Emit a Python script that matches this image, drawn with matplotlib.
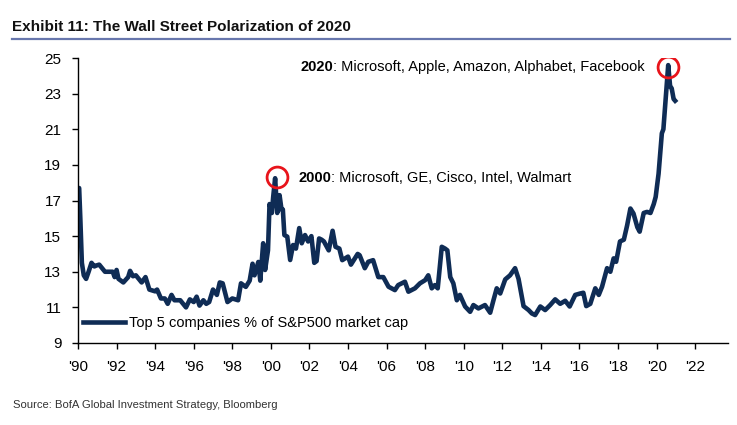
import matplotlib
matplotlib.use("Agg")
import matplotlib.pyplot as plt
from matplotlib.lines import Line2D
from matplotlib import font_manager

plt.rcParams['font.family'] = ['Liberation Sans', 'DejaVu Sans']

# Top 5 companies share of S&P500 market cap
years = [1990.00, 1990.06, 1990.12, 1990.20, 1990.30, 1990.42, 1990.55, 1990.70, 1990.85, 1990.95,
         1991.10, 1991.25, 1991.40, 1991.60, 1991.80, 1991.90, 1992.00, 1992.10, 1992.35, 1992.60,
         1992.70, 1992.85, 1993.00, 1993.15, 1993.30, 1993.50, 1993.70, 1994.00, 1994.10, 1994.30,
         1994.50, 1994.65, 1994.85, 1995.00, 1995.30, 1995.45, 1995.60, 1995.80, 1996.00, 1996.15,
         1996.30, 1996.50, 1996.65, 1996.80, 1997.00, 1997.20, 1997.35, 1997.50, 1997.75, 1998.00,
         1998.30, 1998.45, 1998.70, 1998.90, 1999.05, 1999.15, 1999.35, 1999.45, 1999.60, 1999.70,
         1999.85, 1999.93, 2000.05, 2000.12, 2000.22, 2000.33, 2000.45, 2000.55, 2000.62, 2000.70,
         2000.85, 2001.00, 2001.15, 2001.30, 2001.47, 2001.60, 2001.77, 2001.93, 2002.10, 2002.25,
         2002.37, 2002.50, 2002.63, 2002.75, 2003.00, 2003.20, 2003.35, 2003.55, 2003.70, 2004.00,
         2004.15, 2004.50, 2004.60, 2004.87, 2005.05, 2005.30, 2005.57, 2005.83, 2006.10, 2006.43,
         2006.60, 2006.95, 2007.13, 2007.47, 2007.73, 2008.00, 2008.16, 2008.34, 2008.50, 2008.65,
         2008.86, 2009.03, 2009.15, 2009.30, 2009.46, 2009.64, 2009.80, 2010.07, 2010.33, 2010.50,
         2010.76, 2011.10, 2011.37, 2011.54, 2011.71, 2011.89, 2012.15, 2012.40, 2012.66, 2012.84,
         2013.10, 2013.36, 2013.53, 2013.70, 2013.97, 2014.22, 2014.48, 2014.74, 2015.00, 2015.26,
         2015.49, 2015.78, 2016.04, 2016.20, 2016.35, 2016.56, 2016.82, 2017.00, 2017.17, 2017.43,
         2017.60, 2017.77, 2017.90, 2018.10, 2018.30, 2018.47, 2018.64, 2018.80, 2019.00, 2019.12,
         2019.33, 2019.50, 2019.68, 2019.85, 2019.95, 2020.10, 2020.27, 2020.35, 2020.50, 2020.60,
         2020.70, 2020.78, 2020.88, 2020.96]
share = [17.6, 17.7, 16.0, 13.5, 12.8, 12.6, 13.0, 13.5, 13.3, 13.35,
         13.4, 13.2, 13.0, 13.0, 13.0, 12.7, 13.1, 12.6, 12.4, 12.7,
         13.05, 12.75, 12.8, 12.6, 12.4, 12.7, 12.0, 11.9, 12.0, 11.5,
         11.5, 11.2, 11.7, 11.4, 11.4, 11.2, 11.0, 11.45, 11.3, 11.6,
         11.1, 11.4, 11.2, 11.3, 12.0, 11.7, 12.4, 12.35, 11.3, 11.5,
         11.4, 12.35, 12.15, 12.5, 13.45, 12.8, 13.55, 12.5, 14.6, 13.1,
         14.2, 16.8, 16.3, 17.2, 18.25, 16.3, 17.3, 16.5, 16.5, 15.06,
         14.97, 13.66, 14.5, 14.3, 15.45, 14.6, 15.06, 14.7, 15.0, 13.5,
         13.6, 14.87, 14.8, 14.7, 14.2, 15.3, 14.4, 14.3, 13.65, 13.85,
         13.4, 14.0, 13.93, 13.2, 13.56, 13.65, 12.7, 12.7, 12.16, 11.97,
         12.25, 12.44, 11.88, 12.07, 12.35, 12.53, 12.8, 12.07, 12.25, 12.07,
         14.4, 14.3, 14.2, 12.7, 12.35, 11.4, 11.7, 11.05, 10.75, 11.13,
         10.94, 11.13, 10.7, 11.4, 12.07, 11.78, 12.57, 12.8, 13.2, 12.6,
         11.07, 10.85, 10.66, 10.57, 11.05, 10.85, 11.13, 11.45, 11.2, 11.37,
         11.05, 11.7, 11.78, 11.82, 11.07, 11.2, 12.07, 11.7, 12.16, 13.2,
         13.0, 13.75, 13.56, 14.7, 14.8, 15.6, 16.55, 16.27, 15.5, 15.25,
         16.3, 16.36, 16.3, 16.8, 17.2, 18.5, 20.77, 21.0, 23.2, 24.6,
         23.4, 23.3, 22.7, 22.6]

# highlighted peaks and their labels
peak_x = [2000.32, 2020.60]
peak_y = [18.32, 24.52]
note_years = ['2000', '2020']
note_text = [': Microsoft, GE, Cisco, Intel, Walmart',
             ': Microsoft, Apple, Amazon, Alphabet, Facebook']
note_x = [2001.41, 2001.51]
note_y = [18.26, 24.5]

xtick_years = list(range(1990, 2023, 2))
xtick_labels = ["'%02d" % (y % 100) for y in xtick_years]
ytick_vals = list(range(9, 26, 2))

navy = '#0f2c55'

# narrow face for title / source if one is around
names = set(f.name for f in font_manager.fontManager.ttflist)
narrow = None
for cand in ['Liberation Sans Narrow', 'DejaVu Sans Condensed']:
    if cand in names:
        narrow = cand
        break
if narrow is None:
    title_kw = dict(family='Liberation Sans', fontsize=11)
    src_kw = dict(family='Liberation Sans', fontsize=8.1)
else:
    title_kw = dict(family=narrow, fontsize=11.5)
    src_kw = dict(family=narrow, fontsize=9)

fig = plt.figure(figsize=(7.37, 4.25), dpi=100)
ax = fig.add_axes([78/737, 82/425, 650/737, 285/425])

ax.plot(years, share, color=navy, lw=3.3, solid_joinstyle='round',
        label='Top 5 companies % of S&P500 market cap')
ax.plot(peak_x, peak_y, 'o', ms=15, mfc='none', mec='#e8141b', mew=2)

for i in range(2):
    t = ax.text(note_x[i], note_y[i], note_years[i], fontsize=10.5, fontweight='bold',
                va='center', ha='left')
    ax.annotate(note_text[i], xy=(1, 0), xycoords=t, va='bottom', ha='left',
                fontsize=10.5)

ax.set_xlim(1990, 2023.7)
ax.set_ylim(9, 25)
ax.set_xticks(xtick_years)
ax.set_xticklabels(xtick_labels)
ax.set_yticks(ytick_vals)
ax.tick_params(axis='both', direction='out', length=4, width=1, labelsize=11, pad=8)
for s in ['top', 'right']:
    ax.spines[s].set_visible(False)
for s in ['left', 'bottom']:
    ax.spines[s].set_linewidth(1)

ax.legend(loc='center left', bbox_to_anchor=(0.008, 0.07), frameon=False,
          borderpad=0, borderaxespad=0, handlelength=2.9, handletextpad=0.25,
          fontsize=10.5)

fig.text(12/737, 1 - 27/425, 'Exhibit 11: The Wall Street Polarization of 2020',
         fontweight='bold', va='center', ha='left', color='#111111', **title_kw)
fig.add_artist(Line2D([12/737, 730/737], [1 - 39/425, 1 - 39/425],
                      transform=fig.transFigure, color='#6877ad', lw=1.6))
fig.text(13/737, 1 - 405/425, 'Source: BofA Global Investment Strategy, Bloomberg',
         va='center', ha='left', color='#333333', **src_kw)

plt.savefig('out.png', dpi=100)
